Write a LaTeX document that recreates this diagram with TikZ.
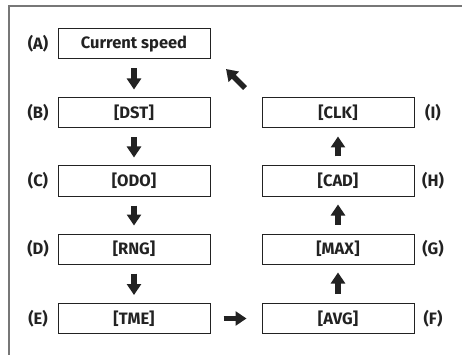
\documentclass[tikz,border=0pt]{standalone}
\usepackage{fontspec}
\setmainfont{Fira Sans}
\usetikzlibrary{arrows.meta}
\definecolor{ink}{HTML}{222222}
\definecolor{frame}{HTML}{777777}
\tikzset{
  stepbox/.style={draw=ink, line width=1pt, minimum width=152pt, minimum height=30pt, inner sep=0pt, text=ink, font=\fontsize{16.5}{18}\selectfont\bfseries},
  tag/.style={text=ink, inner sep=0pt, font=\fontsize{16.5}{18}\selectfont\bfseries},
  blk/.style={draw=ink, line width=5.5pt, -{Triangle[width=14pt,length=11pt]}},
}
\begin{document}
\begin{tikzpicture}[x=1pt,y=-1pt]
\useasboundingbox (0,0) rectangle (462,355);
\draw[frame, line width=1.2pt] (9,355) -- (9,6) -- (462,6);
\node[stepbox] (A) at (134,44) {Current speed};
\node[stepbox] (B) at (134,113) {[DST]};
\node[stepbox] (C) at (134,181) {[ODO]};
\node[stepbox] (D) at (134,249) {[RNG]};
\node[stepbox] (E) at (134,318.5) {[TME]};
\node[stepbox] (F) at (338,318.5) {[AVG]};
\node[stepbox] (G) at (338,249) {[MAX]};
\node[stepbox] (H) at (338,181) {[CAD]};
\node[stepbox] (I) at (338,113) {[CLK]};
\node[tag] (tA) at (38,44) {(A)};
\node[tag] (tB) at (38,113) {(B)};
\node[tag] (tC) at (38,181) {(C)};
\node[tag] (tD) at (38,249) {(D)};
\node[tag] (tE) at (38,318.5) {(E)};
\node[tag] (tF) at (433,318.5) {(F)};
\node[tag] (tG) at (433,249) {(G)};
\node[tag] (tH) at (433,181) {(H)};
\node[tag] (tI) at (433,113) {(I)};
\draw[blk, shorten <=9pt, shorten >=8pt] (A) -- (B);
\draw[blk, shorten <=9pt, shorten >=8pt] (B) -- (C);
\draw[blk, shorten <=9pt, shorten >=8pt] (C) -- (D);
\draw[blk, shorten <=9pt, shorten >=8pt] (D) -- (E);
\draw[blk, shorten <=13pt, shorten >=15pt] (E) -- (F);
\draw[blk, shorten <=9pt, shorten >=8pt] (F) -- (G);
\draw[blk, shorten <=9pt, shorten >=8pt] (G) -- (H);
\draw[blk, shorten <=9pt, shorten >=8pt] (H) -- (I);
\coordinate (d1) at (245,88);
\coordinate (d2) at (226,69);
\draw[blk] (d1) -- (d2);
\end{tikzpicture}
\end{document}
